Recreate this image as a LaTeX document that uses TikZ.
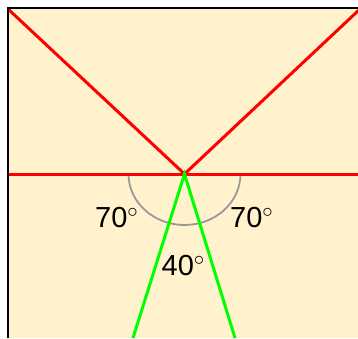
\documentclass[tikz,border=0pt]{standalone}
\usepackage{fontspec}
\setmainfont{Liberation Sans}
\definecolor{bgyellow}{HTML}{FFF2CC}
\definecolor{arcgray}{HTML}{999999}
\begin{document}
\begin{tikzpicture}[x=1pt,y=-1pt,
  redline/.style={draw=red,line width=3pt},
  greenline/.style={draw=green,line width=3pt},
  anglearc/.style={draw=arcgray,line width=1.8pt},
  border/.style={draw=black,line width=2pt},
  anglelabel/.style={anchor=base west,inner sep=0pt,font=\fontsize{29}{31}\selectfont}]
\useasboundingbox (0,0) rectangle (358,338);
\fill[white] (0,0) rectangle (358,338);
\fill[bgyellow] (8,8) rectangle (358,338);
\coordinate (V) at (184.5,174);
\coordinate (TL) at (8,9);
\coordinate (TR) at (360,9);
\coordinate (HL) at (8,174);
\coordinate (HR) at (358,174);
\coordinate (GL) at (133,338);
\coordinate (GR) at (235,338);
\begin{scope}
\clip (8,8) rectangle (358,338);
\draw[anglearc] (128.5,174) arc[start angle=180,end angle=360,x radius=56,y radius=-51];
\draw[redline] (HL) -- (HR);
\draw[redline] (TL) -- (V) -- (TR);
\draw[greenline] (GL) -- (V) -- (GR);
\end{scope}
\draw[border] (8,338) -- (8,8) -- (358,8);
\node[anglelabel] (a1) at (95,227) {70$^\circ$};
\node[anglelabel] (a2) at (230,227) {70$^\circ$};
\node[anglelabel] (a3) at (161.5,275) {40$^\circ$};
\end{tikzpicture}
\end{document}
